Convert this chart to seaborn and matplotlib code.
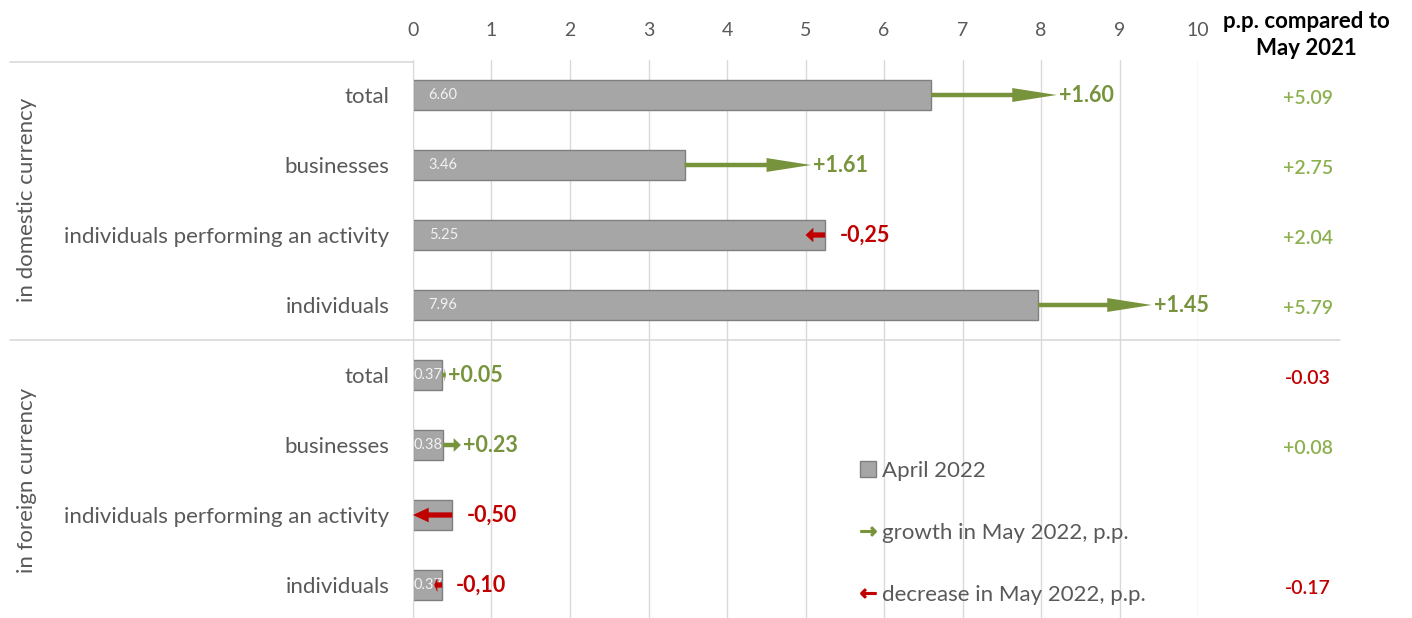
import numpy as np
import pandas as pd
import matplotlib.pyplot as plt
import seaborn as sns
from matplotlib.patches import FancyArrowPatch, Patch
from matplotlib.lines import Line2D
from matplotlib import transforms

# data
groups = ["in domestic currency", "in foreign currency"]
categories = ["total", "businesses", "individuals performing an activity", "individuals",
              "total", "businesses", "individuals performing an activity", "individuals"]
april_2022 = [6.60, 3.46, 5.25, 7.96, 0.37, 0.38, 0.50, 0.37]
change_may_2022 = [1.60, 1.61, -0.25, 1.45, 0.05, 0.23, -0.50, -0.10]
change_labels = ["+1.60", "+1.61", "-0,25", "+1.45", "+0.05", "+0.23", "-0,50", "-0,10"]
vs_may_2021 = [5.09, 2.75, 2.04, 5.79, -0.03, 0.08, None, -0.17]

GREEN = "#77933C"
GREEN_LIGHT = "#8DB04F"
RED = "#C00000"
GREY_TXT = "#595959"
GRID = "#D9D9D9"

sns.set_style("white")
plt.rcParams['font.family'] = ['Lato', 'DejaVu Sans']

df = pd.DataFrame({
    "row": [str(i) for i in range(len(april_2022))],
    "value": april_2022,
})

W, H = 1412, 618
fig = plt.figure(figsize=(W / 100, H / 100), dpi=100)
ax = fig.add_axes([413 / W, -2 / H, 785 / W, 560 / H])

sns.barplot(data=df, x="value", y="row", orient="h", color="#A6A6A6",
            saturation=1, edgecolor="#7F7F7F", linewidth=1, width=0.43, ax=ax)

ax.set_xlim(0, 10)
ax.set_ylim(7.5, -0.5)
ax.set_xlabel("")
ax.set_ylabel("")
ax.xaxis.tick_top()
ax.set_xticks(range(11))
ax.set_xticklabels([str(t) for t in range(11)])
ax.tick_params(axis="x", length=0, pad=15, labelsize=14, labelcolor=GREY_TXT)
ax.set_yticks(range(len(categories)))
ax.set_yticklabels(categories)
ax.tick_params(axis="y", length=0, pad=17, labelsize=16, labelcolor=GREY_TXT)
ax.xaxis.grid(True, color=GRID, lw=1)
ax.yaxis.grid(False)
ax.set_axisbelow(True)
for s in ["top", "right", "bottom"]:
    ax.spines[s].set_visible(False)
ax.spines["left"].set_color(GRID)

# bar value labels
for i, (v, d) in enumerate(zip(april_2022, change_may_2022)):
    if abs(d) >= v:
        continue
    if v > 1:
        ax.text(0.2, i, f"{v:.2f}", ha="left", va="center", fontsize=10.5, color="#F2F2F2", zorder=3)
    else:
        ax.text(v / 2, i, f"{v:.2f}", ha="center", va="center", fontsize=10.5, color="#F2F2F2",
                zorder=3, clip_on=True)

# arrows for the change in May 2022
pt_per_unit = 78.5 * 0.72
for i, (v, d, lab) in enumerate(zip(april_2022, change_may_2022, change_labels)):
    col = GREEN if d > 0 else RED
    len_pt = abs(d) * pt_per_unit
    hl = min(32, 0.4 * len_pt)
    hw = 10 if d > 0 else 10.5
    tw = 3.2 if d > 0 else 3.8
    arr = FancyArrowPatch((v, i), (v + d, i),
                          arrowstyle=f"simple,head_length={hl},head_width={hw},tail_width={tw}",
                          mutation_scale=1, lw=0, color=col, shrinkA=0, shrinkB=0, zorder=4)
    ax.add_patch(arr)
    if d > 0:
        ax.text(v + d + 0.03, i, lab, ha="left", va="center", fontsize=15.5,
                fontweight="bold", color=col, zorder=5)
    else:
        ax.text(v + 0.18, i, lab, ha="left", va="center", fontsize=15.5,
                fontweight="bold", color=col, zorder=5)

# group separators and labels
blend = transforms.blended_transform_factory(fig.transFigure, ax.transData)
ax.add_line(Line2D([10 / W, 413 / W], [-0.47, -0.47], transform=blend, color=GRID, lw=1.2, clip_on=False))
ax.add_line(Line2D([10 / W, 1340 / W], [3.5, 3.5], transform=blend, color=GRID, lw=1.2, clip_on=False))
ax.text(27 / W, 1.5, groups[0], transform=blend, rotation=90, ha="center", va="center",
        fontsize=16, color=GREY_TXT)
ax.text(27 / W, 5.5, groups[1], transform=blend, rotation=90, ha="center", va="center",
        fontsize=16, color=GREY_TXT)

# right column: change vs May 2021
fig.text(1306 / W, 1 - 35 / H, "p.p. compared to\nMay 2021", ha="center", va="center",
         fontsize=16, fontweight="bold", color="black", linespacing=1.3)
for i, v in enumerate(vs_may_2021):
    if v is None:
        continue
    ax.text(1308 / W, i + 0.05, f"{v:+.2f}", transform=blend, ha="center", va="center",
            fontsize=14, fontweight="semibold", color=GREEN_LIGHT if v > 0 else RED)

# legend
handles = [
    Patch(facecolor="#A6A6A6", edgecolor="#7F7F7F"),
    Line2D([], [], color=GREEN, marker=r"$\rightarrow$", linestyle="None", markersize=11),
    Line2D([], [], color=RED, marker=r"$\leftarrow$", linestyle="None", markersize=11),
]
ax.legend(handles, ["April 2022", "growth in May 2022, p.p.", "decrease in May 2022, p.p."],
          loc="center left", bbox_to_anchor=(860 / W, 1 - 533 / H), bbox_transform=fig.transFigure,
          frameon=False, fontsize=16, labelcolor=GREY_TXT, labelspacing=1.9,
          handlelength=0.7, handleheight=0.7, handletextpad=0.3, borderpad=0, borderaxespad=0)

fig.savefig("out.png", dpi=100)
